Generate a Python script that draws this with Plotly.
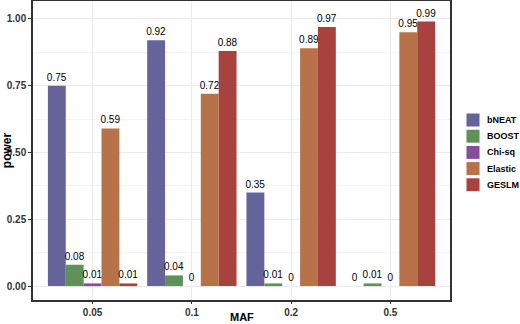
import plotly.graph_objects as go

maf = ["0.05", "0.1", "0.2", "0.5"]
methods = ["bNEAT", "BOOST", "Chi-sq", "Elastic", "GESLM"]
bneat = [0.75, 0.92, 0.35, 0]
boost = [0.08, 0.04, 0.01, 0.01]
chisq = [0.01, 0, 0, 0]
elastic = [0.59, 0.72, 0.89, 0.95]
geslm = [0.01, 0.88, 0.97, 0.99]
colors = ["#64649B", "#5F9159", "#894B9C", "#B87249", "#A8423F"]
yticks = [0, 0.25, 0.5, 0.75, 1.0]
yticklabels = ["0.00", "0.25", "0.50", "0.75", "1.00"]

W, H = 520, 324
ML, MR, MT, MB = 33, 70, 1, 24
PW, PH = W - ML - MR, H - MT - MB


def px_x(x):
    return (x - ML) / PW


def px_y(y):
    return (H - MB - y) / PH


series = [bneat, boost, chisq, elastic, geslm]
fig = go.Figure()
for name, vals, col in zip(methods, series, colors):
    fig.add_trace(go.Bar(
        x=maf, y=vals, name=name,
        marker=dict(color=col, line=dict(width=0)),
        text=[f"{v:g}" for v in vals], textposition="outside",
        textfont=dict(size=10, color="black", family="Liberation Sans, Arial"),
        constraintext="none", cliponaxis=False, showlegend=False,
    ))

# manual legend (keys + labels)
shapes, annotations = [], []
for i, (name, col) in enumerate(zip(methods, colors)):
    cy = 120 + i * 16.2
    shapes.append(dict(type="rect", xref="paper", yref="paper",
                       x0=px_x(466), x1=px_x(480), y0=px_y(cy + 7), y1=px_y(cy - 7),
                       fillcolor=col, line=dict(color="white", width=1)))
    annotations.append(dict(text=f"<b>{name}</b>", xref="paper", yref="paper",
                            x=px_x(485), y=px_y(cy), xanchor="left", yanchor="middle",
                            showarrow=False, font=dict(size=9, color="black")))
annotations.append(dict(text="<b>MAF</b>", xref="paper", yref="paper", x=0.5,
                        y=px_y(316.5), xanchor="center", yanchor="middle",
                        showarrow=False, font=dict(size=11, color="black")))

fig.update_layout(
    width=W, height=H,
    margin=dict(l=ML, r=MR, t=MT, b=MB, autoexpand=False),
    plot_bgcolor="white", paper_bgcolor="white",
    barmode="group", bargap=0.1, bargroupgap=0,
    font=dict(family="Liberation Sans, Arial", size=10, color="#333333"),
    showlegend=False,
    shapes=shapes, annotations=annotations,
    xaxis=dict(
        automargin=False,
        range=[-0.6, 3.6], showgrid=True, gridcolor="#EBEBEB", gridwidth=1,
        showline=True, linecolor="#333333", linewidth=1.5, mirror=True,
        ticks="outside", ticklen=2, tickcolor="#333333",
        tickfont=dict(size=10, color="#333333", weight="bold"),
    ),
    yaxis=dict(
        title=dict(text="<b>power</b>", font=dict(size=12, color="black"), standoff=2),
        automargin=False,
        range=[-0.052, 1.067], tickvals=yticks, ticktext=yticklabels,
        showgrid=True, gridcolor="#EBEBEB", gridwidth=1,
        minor=dict(tickvals=[0.125, 0.375, 0.625, 0.875], showgrid=True,
                   gridcolor="#F4F4F4", gridwidth=0.8),
        zeroline=False,
        showline=True, linecolor="#333333", linewidth=1.5, mirror=True,
        ticks="outside", ticklen=3, tickcolor="#333333",
        tickfont=dict(size=10, color="#333333", weight="bold"),
    ),
)
fig.write_html("out.html")
